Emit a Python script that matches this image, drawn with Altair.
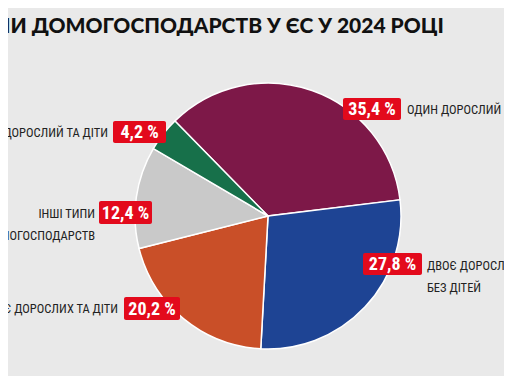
import altair as alt
import pandas as pd

# ---- data ----
categories = [
    "ОДИН ДОРОСЛИЙ І",
    "ДВОЄ ДОРОСЛИХ\nБЕЗ ДІТЕЙ",
    "ДВОЄ ДОРОСЛИХ ТА ДІТИ",
    "ІНШІ ТИПИ\nДОМОГОСПОДАРСТВ",
    "ОДИН ДОРОСЛИЙ ТА ДІТИ",
]
values = [35.4, 27.8, 20.2, 12.4, 4.2]
colors = ["#7d1848", "#1e4494", "#c94f28", "#c9c9c9", "#17704a"]
title_text = "ТИПИ ДОМОГОСПОДАРСТВ У ЄС У 2024 РОЦІ"

df = pd.DataFrame({"cat": categories, "value": values, "idx": list(range(len(values)))})

BG = "#e9e9e9"
NARROW = ("Roboto Condensed, Noto Sans Condensed, Liberation Sans Narrow, "
          "Arial Narrow, DejaVu Sans Condensed, sans-serif")
W, H = 496, 368


def P(v):
    # page pixel -> chart pixel (page has an 8px margin)
    return v - 8


base = alt.Chart(df)

start = -0.775
pie = base.mark_arc(outerRadius=133, stroke="white", strokeWidth=1.5).encode(
    theta=alt.Theta("value:Q", stack=True, scale=alt.Scale(range=[start, start + 6.283185])),
    order=alt.Order("idx:Q"),
    color=alt.Color("cat:N", scale=alt.Scale(domain=categories, range=colors), legend=None),
    x=alt.value(P(268)),
    y=alt.value(P(216)),
)

layers = [pie]


def pct_box(i, x1, x2, y1, y2):
    b = base.transform_filter(alt.datum.idx == i).transform_calculate(
        lab="replace(format(datum.value, '.1f'), '.', ',') + ' %'"
    )
    rect = b.mark_rect(color="#e30a1c", cornerRadius=2).encode(
        x=alt.value(P(x1)), x2=alt.value(P(x2)), y=alt.value(P(y1)), y2=alt.value(P(y2))
    )
    txt = b.mark_text(
        font=NARROW, fontSize=18, fontWeight="bold", color="white", align="center", baseline="middle"
    ).encode(text="lab:N", x=alt.value(P((x1 + x2) / 2)), y=alt.value(P((y1 + y2) / 2 + 1)))
    return [rect, txt]


def cat_label(i, x, y, align):
    b = base.transform_filter(alt.datum.idx == i)
    return b.mark_text(
        font=NARROW, fontSize=12.5, color="#222222", align=align, baseline="alphabetic",
        lineBreak="\n", lineHeight=22,
    ).encode(text="cat:N", x=alt.value(P(x)), y=alt.value(P(y)))


# 35,4 %
layers += pct_box(0, 343, 401, 98, 120)
layers.append(cat_label(0, 407, 114, "left"))
# 27,8 %
layers += pct_box(1, 363, 422, 253, 275)
layers.append(cat_label(1, 427, 270, "left"))
# 20,2 %
layers += pct_box(2, 124, 180, 297, 320)
layers.append(cat_label(2, 118, 313, "right"))
# 12,4 %
layers += pct_box(3, 99, 152, 201, 224)
layers.append(cat_label(3, 95, 218, "right"))
# 4,2 %
layers += pct_box(4, 113, 166, 121, 143)
layers.append(cat_label(4, 108, 137, "right"))

title = alt.Chart(pd.DataFrame({"t": [title_text]})).mark_text(
    font="Lato, Liberation Sans, Arial, sans-serif", fontSize=21, fontWeight=900, color="#111111",
    align="right", baseline="alphabetic",
).encode(text="t:N", x=alt.value(P(444)), y=alt.value(P(33)))
layers.append(title)

chart = alt.layer(*layers).properties(
    width=W, height=H, background=BG, padding=0,
    autosize=alt.AutoSizeParams(type="none"),
).configure_view(stroke=None)

chart.save("out.html", embed_options={"renderer": "svg", "actions": False})
